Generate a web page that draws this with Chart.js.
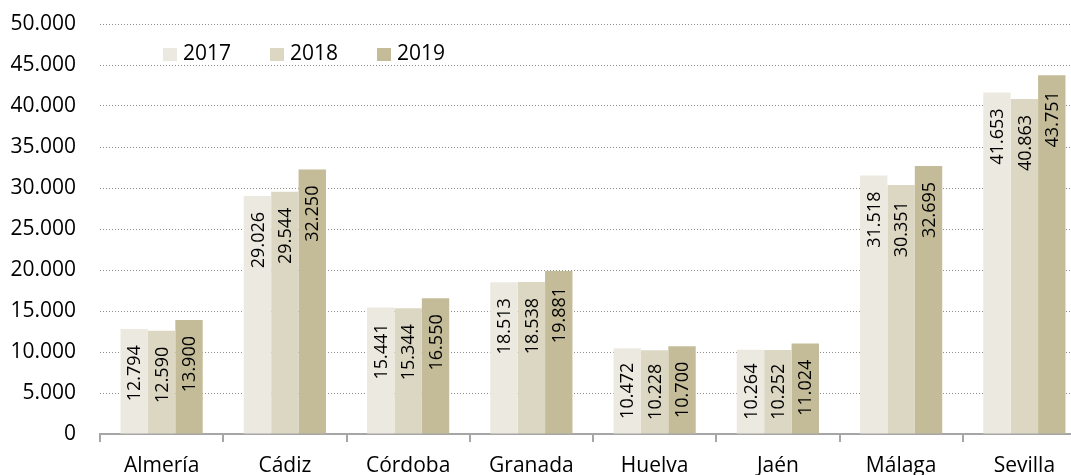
<!DOCTYPE html>
<html>
<head>
<meta charset="utf-8">
<script src="https://cdn.jsdelivr.net/npm/chart.js@4.4.1/dist/chart.umd.min.js"></script>
<style>
  html, body { margin: 0; padding: 0; background: #fff; }
  #wrap { position: relative; width: 1071px; height: 475px; overflow: hidden; }
  #chart { position: absolute; left: 0; top: 0; }
  .legend { position: absolute; top: 38px; font: 21px 'Open Sans', sans-serif; color: #000; line-height: 28px; }
  .legend span.box { display: inline-block; width: 14px; height: 13px; margin-right: 6px; vertical-align: -1px; }
</style>
</head>
<body>
<div id="wrap">
  <canvas id="chart" width="1086" height="475"></canvas>
  <div class="legend" style="left:163px"><span class="box" style="background:#ECEAE0"></span>2017</div>
  <div class="legend" style="left:270px"><span class="box" style="background:#DCD7C2"></span>2018</div>
  <div class="legend" style="left:377px"><span class="box" style="background:#C4BC98"></span>2019</div>
</div>
<script>
const provinces = ['Almería', 'Cádiz', 'Córdoba', 'Granada', 'Huelva', 'Jaén', 'Málaga', 'Sevilla']
const years = ['2017', '2018', '2019']
const values2017 = [12794, 29026, 15441, 18513, 10472, 10264, 31518, 41653]
const values2018 = [12590, 29544, 15344, 18538, 10228, 10252, 30351, 40863]
const values2019 = [13900, 32250, 16550, 19881, 10700, 11024, 32695, 43751]
const colors = ['#ECEAE0', '#DCD7C2', '#C4BC98']

function fmt(n) {
  return String(Math.round(n)).replace(/\B(?=(\d{3})+(?!\d))/g, '.')
}

// rotated value labels, inside the top of each bar
const barLabels = {
  id: 'barLabels',
  afterDatasetsDraw(chart) {
    const ctx = chart.ctx
    ctx.save()
    ctx.font = "18px 'Open Sans', sans-serif"
    ctx.fillStyle = '#000'
    ctx.textAlign = 'right'
    ctx.textBaseline = 'middle'
    chart.data.datasets.forEach((ds, i) => {
      chart.getDatasetMeta(i).data.forEach((bar, j) => {
        const txt = fmt(ds.data[j])
        const w = ctx.measureText(txt).width
        const h = bar.base - bar.y
        const gap = Math.min(16, (h - w) / 2)
        ctx.save()
        ctx.translate(bar.x + 1, bar.y + gap)
        ctx.rotate(-Math.PI / 2)
        ctx.fillText(txt, 0, 0)
        ctx.restore()
      })
    })
    ctx.restore()
  },
}

const series = [values2017, values2018, values2019]

new Chart(document.getElementById('chart'), {
  type: 'bar',
  data: {
    labels: provinces,
    datasets: years.map((y, i) => ({
      label: y,
      data: series[i],
      backgroundColor: colors[i],
      barPercentage: 1,
      categoryPercentage: 0.667,
    })),
  },
  options: {
    responsive: false,
    animation: false,
    layout: { padding: { top: 24, right: 0, left: 0, bottom: 0 } },
    plugins: { legend: { display: false }, tooltip: { enabled: false } },
    scales: {
      x: {
        grid: { display: true, drawOnChartArea: false, tickLength: 8, color: '#a6a6a6', lineWidth: 2 },
        border: { display: true, color: '#a6a6a6', width: 2 },
        ticks: { color: '#000', font: { family: 'Open Sans', size: 21 }, padding: 11, maxRotation: 0 },
        afterFit(scale) { scale.height = 41 },
      },
      y: {
        min: 0,
        max: 50000,
        grid: { color: '#8c8c8c', lineWidth: 1, drawTicks: false },
        border: { display: false, dash: [1, 2] },
        ticks: {
          stepSize: 5000,
          color: '#000',
          padding: 24,
          font: { family: 'Open Sans', size: 21 },
          callback: (v) => fmt(v),
        },
        afterFit(scale) {
          scale.width = 100
          scale.paddingTop = 0
          scale.paddingBottom = 0
        },
      },
    },
  },
  plugins: [barLabels],
})
</script>
</body>
</html>
